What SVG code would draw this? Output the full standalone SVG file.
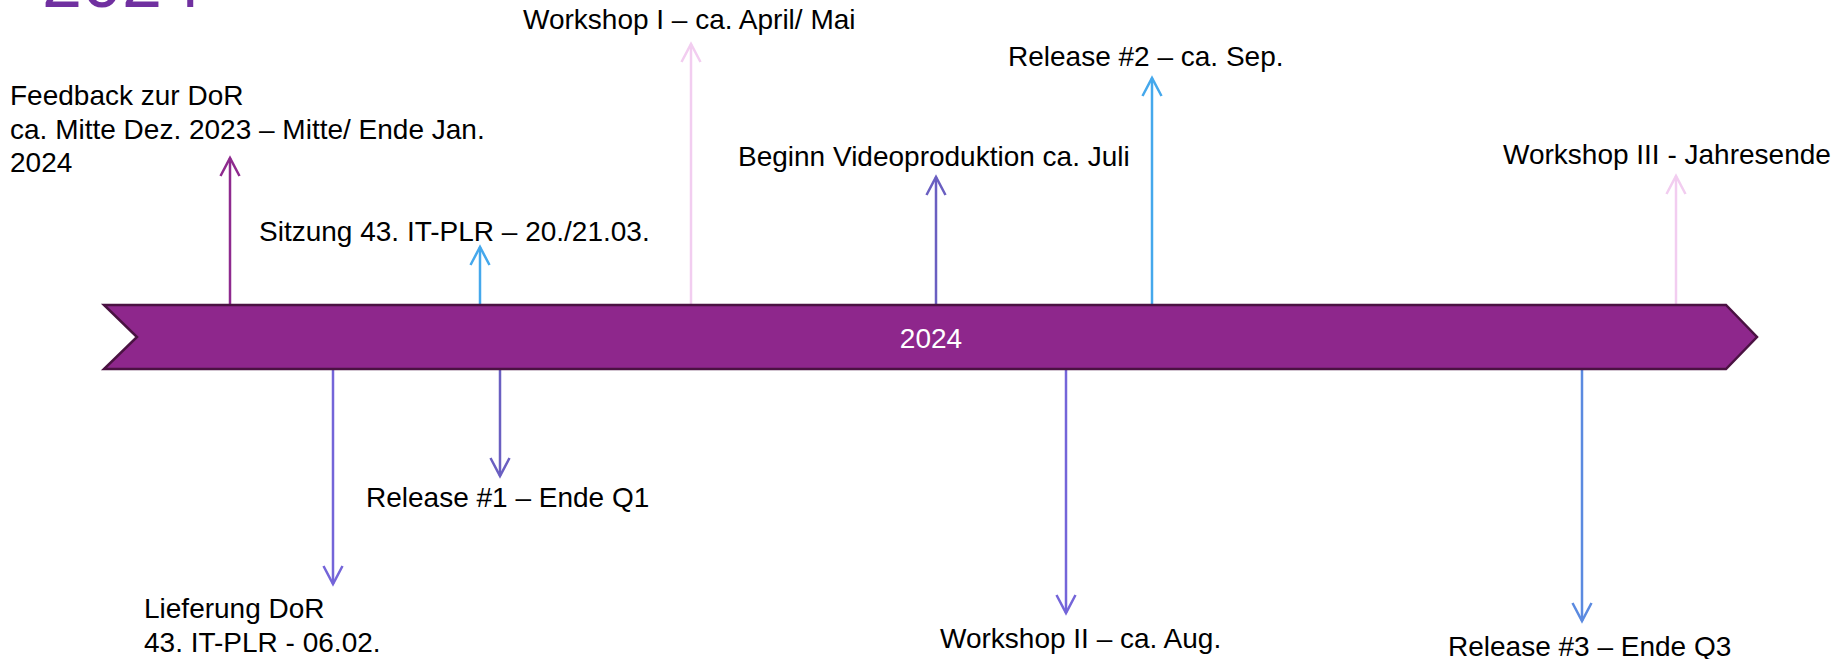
<svg xmlns="http://www.w3.org/2000/svg" width="1834" height="659" viewBox="0 0 1834 659">
  <style>
    .lbl { font-family: "Liberation Sans", Arial, sans-serif; font-size: 28px; fill: #000000; }
    .band { fill: #8e278c; stroke: #4a1242; stroke-width: 2.5; stroke-linejoin: miter; }
    .bandtxt { font-family: "Liberation Sans", Arial, sans-serif; font-size: 28px; fill: #ffffff; }
    .title { font-family: "Liberation Sans", Arial, sans-serif; font-size: 72px; fill: #7030a0; }
    .c { fill: none; stroke-width: 2.5; }
    .mh { fill: none; stroke-width: 2.5; stroke-linejoin: miter; }
  </style>
  <defs>
    <marker id="aPurple" markerUnits="userSpaceOnUse" markerWidth="26" markerHeight="26" refX="21" refY="12" orient="auto" overflow="visible"><path class="mh" stroke="#8e2a8e" d="M3,2.5 L21,12 L3,21.5"/></marker>
    <marker id="aBlue" markerUnits="userSpaceOnUse" markerWidth="26" markerHeight="26" refX="21" refY="12" orient="auto" overflow="visible"><path class="mh" stroke="#45a8ec" d="M3,2.5 L21,12 L3,21.5"/></marker>
    <marker id="aPink" markerUnits="userSpaceOnUse" markerWidth="26" markerHeight="26" refX="21" refY="12" orient="auto" overflow="visible"><path class="mh" stroke="#f2cdf0" d="M3,2.5 L21,12 L3,21.5"/></marker>
    <marker id="aSlate" markerUnits="userSpaceOnUse" markerWidth="26" markerHeight="26" refX="21" refY="12" orient="auto" overflow="visible"><path class="mh" stroke="#6a5fc1" d="M3,2.5 L21,12 L3,21.5"/></marker>
    <marker id="aViolet" markerUnits="userSpaceOnUse" markerWidth="26" markerHeight="26" refX="21" refY="12" orient="auto" overflow="visible"><path class="mh" stroke="#7465d9" d="M3,2.5 L21,12 L3,21.5"/></marker>
    <marker id="aCorn" markerUnits="userSpaceOnUse" markerWidth="26" markerHeight="26" refX="21" refY="12" orient="auto" overflow="visible"><path class="mh" stroke="#5b8ae0" d="M3,2.5 L21,12 L3,21.5"/></marker>
  </defs>

  <g id="title">
    <text class="title" x="42" y="7">2024</text>
  </g>

  <g id="connectors">
    <path class="c" stroke="#8e2a8e" d="M230,305 V158" marker-end="url(#aPurple)"/>
    <path class="c" stroke="#45a8ec" d="M480,305 V247" marker-end="url(#aBlue)"/>
    <path class="c" stroke="#f2cdf0" d="M691,305 V44" marker-end="url(#aPink)"/>
    <path class="c" stroke="#6a5fc1" d="M936,305 V177" marker-end="url(#aSlate)"/>
    <path class="c" stroke="#45a8ec" d="M1152,305 V78" marker-end="url(#aBlue)"/>
    <path class="c" stroke="#f2cdf0" d="M1676,305 V176" marker-end="url(#aPink)"/>
    <path class="c" stroke="#7465d9" d="M333,369 V584" marker-end="url(#aViolet)"/>
    <path class="c" stroke="#6a5fc1" d="M500,369 V476" marker-end="url(#aSlate)"/>
    <path class="c" stroke="#7465d9" d="M1066,369 V613" marker-end="url(#aViolet)"/>
    <path class="c" stroke="#5b8ae0" d="M1582,369 V621" marker-end="url(#aCorn)"/>
  </g>

  <g id="timeline">
    <path class="band" d="M104,305 L1726,305 L1757,337 L1726,369 L104,369 L137,337 Z"/>
    <text class="bandtxt" x="931" y="348" text-anchor="middle">2024</text>
  </g>

  <g id="feedback">
    <text class="lbl" x="10" y="105">Feedback zur DoR</text>
    <text class="lbl" x="10" y="139">ca. Mitte Dez. 2023 – Mitte/ Ende Jan.</text>
    <text class="lbl" x="10" y="172">2024</text>
  </g>
  <g id="sitzung">
    <text class="lbl" x="259" y="241">Sitzung 43. IT-PLR – 20./21.03.</text>
  </g>
  <g id="workshop1">
    <text class="lbl" x="523" y="29">Workshop I – ca. April/ Mai</text>
  </g>
  <g id="video">
    <text class="lbl" x="738" y="166">Beginn Videoproduktion ca. Juli</text>
  </g>
  <g id="release2">
    <text class="lbl" x="1008" y="66">Release #2 – ca. Sep.</text>
  </g>
  <g id="workshop3">
    <text class="lbl" x="1503" y="164">Workshop III - Jahresende</text>
  </g>
  <g id="lieferung">
    <text class="lbl" x="144" y="618">Lieferung DoR</text>
    <text class="lbl" x="144" y="652">43. IT-PLR - 06.02.</text>
  </g>
  <g id="release1">
    <text class="lbl" x="366" y="507">Release #1 – Ende Q1</text>
  </g>
  <g id="workshop2">
    <text class="lbl" x="940" y="648">Workshop II – ca. Aug.</text>
  </g>
  <g id="release3">
    <text class="lbl" x="1448" y="656">Release #3 – Ende Q3</text>
  </g>
</svg>
